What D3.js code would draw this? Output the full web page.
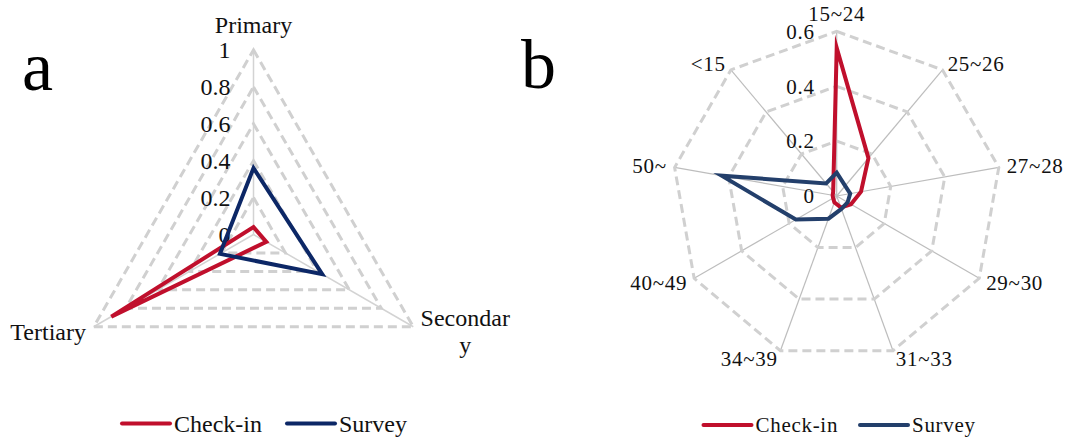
<!DOCTYPE html>
<html><head><meta charset="utf-8">
<script src="https://cdn.jsdelivr.net/npm/d3@7"></script>
<style>html,body{margin:0;padding:0;background:#fff;}svg{display:block;}</style>
</head><body>
<script>
// ---- data ----
const seriesNames = ["Check-in", "Survey"];
const catsA = ["Primary", "Secondary", "Tertiary"];
const checkinA = [0.04, 0.08, 0.89];
const surveyA = [0.36, 0.43, 0.21];
const ticksA = [0, 0.2, 0.4, 0.6, 0.8, 1];

const catsB = ["15~24", "25~26", "27~28", "29~30", "31~33", "34~39", "40~49", "50~", "<15"];
const checkinB = [0.54, 0.18, 0.09, 0.06, 0.045, 0.025, 0.015, 0.015, 0.02];
const surveyB = [0.085, 0.048, 0.05, 0.046, 0.05, 0.088, 0.172, 0.426, 0.06];
const ticksB = [0, 0.2, 0.4, 0.6];

const W = 1067, H = 439;
const FONT = "'Liberation Serif','Times New Roman',serif";
const svg = d3.select("body").append("svg").attr("width", W).attr("height", H);

function radar(cfg) {
  const g = svg.append("g").attr("transform", `translate(${cfg.cx},${cfg.cy})`);
  const n = cfg.cats.length;
  const r = d3.scaleLinear().domain([0, d3.max(cfg.ticks)]).range([0, cfg.R]);
  const ang = d3.scalePoint().domain(cfg.cats).range([0, 2 * Math.PI * (n - 1) / n]);
  const pt = (c, v) => [r(v) * Math.sin(ang(c)), -r(v) * Math.cos(ang(c))];
  // spokes
  g.selectAll(".spoke").data(cfg.cats).join("line")
    .attr("x1", 0).attr("y1", 0)
    .attr("x2", c => pt(c, d3.max(cfg.ticks))[0]).attr("y2", c => pt(c, d3.max(cfg.ticks))[1])
    .attr("stroke", cfg.spokeColor).attr("stroke-width", cfg.spokeWidth);
  // rings
  const ringLine = d3.lineRadial().curve(d3.curveLinearClosed);
  g.selectAll(".ring").data(cfg.ticks.filter(t => t > 0)).join("path")
    .attr("d", t => ringLine(cfg.cats.map(c => [ang(c), r(t)])))
    .attr("fill", "none").attr("stroke", "#d0d0d0").attr("stroke-width", 3)
    .attr("stroke-dasharray", "9,5");
  // tick labels
  g.selectAll(".tick").data(cfg.ticks).join("text")
    .attr("x", -cfg.tickDx).attr("y", t => -r(t)).attr("dy", "0.35em")
    .attr("text-anchor", "end").attr("font-family", FONT).attr("font-size", cfg.fs)
    .attr("letter-spacing", cfg.ls).attr("fill", "#111")
    .text(t => d3.format("~g")(t));
  // series
  const line = d3.lineRadial().curve(d3.curveLinearClosed);
  cfg.series.forEach((s, i) => {
    g.append("path")
      .attr("d", line(cfg.cats.map((c, j) => [ang(c), r(s[j])])))
      .attr("fill", "none").attr("stroke", cfg.colors[i]).attr("stroke-width", 4)
      .attr("stroke-linejoin", "miter").attr("stroke-miterlimit", 10);
  });
  // category labels
  cfg.cats.forEach(c => {
    const a = ang(c);
    const s = Math.sin(a), co = Math.cos(a);
    const d = cfg.R + cfg.labelPad;
    let x = d * s, y = -d * co;
    const anchor = s > 0.1 ? "start" : (s < -0.1 ? "end" : "middle");
    if (co > 0.9) y -= cfg.topExtra;
    const lines = c.length > cfg.wrap ? [c.slice(0, cfg.wrap), c.slice(cfg.wrap)] : [c];
    const t = g.append("text").attr("font-family", FONT).attr("font-size", cfg.fs)
      .attr("letter-spacing", cfg.ls).attr("fill", "#111");
    if (lines.length === 1) {
      t.attr("x", x).attr("y", y).attr("dy", "0.35em").attr("text-anchor", anchor).text(c);
    } else {
      t.attr("text-anchor", "middle");
      const w0 = lines[0].length * cfg.fs * 0.46;
      const xm = anchor === "start" ? x + w0 / 2 : (anchor === "end" ? x - w0 / 2 : x);
      const y0 = y - (lines.length - 1) * cfg.lineH / 2;
      lines.forEach((ln, k) => {
        t.append("tspan").attr("x", xm).attr("y", y0 + k * cfg.lineH).attr("dy", "0.35em").text(ln);
      });
    }
  });
  // panel letter
  svg.append("text").attr("x", cfg.letterX).attr("y", cfg.letterY)
    .attr("font-family", FONT).attr("font-size", 70).attr("fill", "#000").text(cfg.letter);
  // legend
  const lg = svg.append("g");
  seriesNames.forEach((nm, i) => {
    const lx = cfg.legX[i];
    lg.append("line").attr("x1", lx).attr("x2", lx + cfg.legLen)
      .attr("y1", cfg.legY).attr("y2", cfg.legY)
      .attr("stroke", cfg.colors[i]).attr("stroke-width", 4).attr("stroke-linecap", "round");
    lg.append("text").attr("x", lx + cfg.legLen + 4).attr("y", cfg.legY).attr("dy", "0.35em")
      .attr("font-family", FONT).attr("font-size", cfg.legFs).attr("letter-spacing", cfg.ls)
      .attr("fill", "#111").text(nm);
  });
}

radar({
  cx: 253.5, cy: 234.5, R: 184.5, cats: catsA, ticks: ticksA,
  series: [checkinA, surveyA], colors: ["#c00f2c", "#0c2766"],
  spokeColor: "#d3d3d3", spokeWidth: 1.5, fs: 24, ls: 0, tickDx: 23,
  labelPad: 9, topExtra: 16, wrap: 8, lineH: 27,
  letter: "a", letterX: 22, letterY: 90,
  legX: [122, 287], legY: 423.5, legLen: 48, legFs: 24
});
radar({
  cx: 836.7, cy: 196, R: 164.6, cats: catsB, ticks: ticksB,
  series: [checkinB, surveyB], colors: ["#c00f2c", "#233f6b"],
  spokeColor: "#bdbdbd", spokeWidth: 1.2, fs: 21, ls: 0.7, tickDx: 22,
  labelPad: 8, topExtra: 10, wrap: 20, lineH: 24,
  letter: "b", letterX: 521, letterY: 88,
  legX: [703.5, 860], legY: 425, legLen: 48, legFs: 21
});
</script>
</body></html>
